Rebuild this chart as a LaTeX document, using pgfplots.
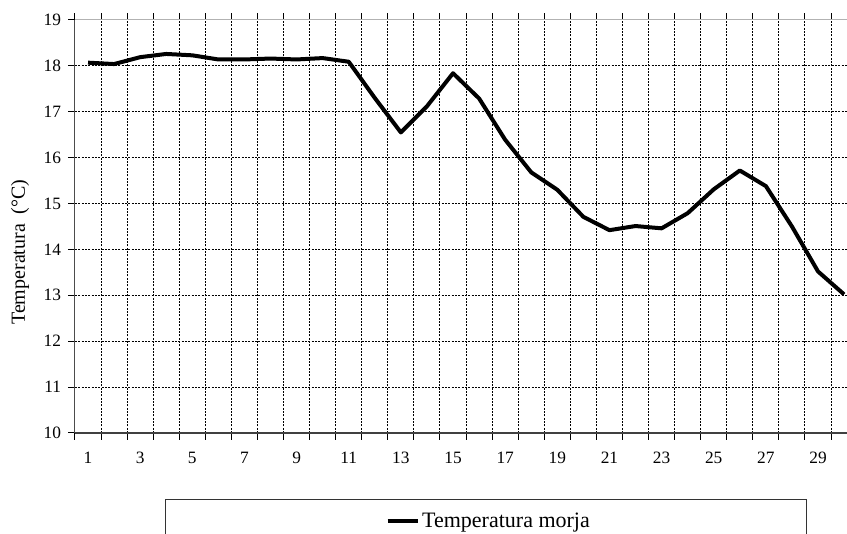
\documentclass[border=0pt]{standalone}
\usepackage{pgfplots}
\pgfplotsset{compat=1.18}
\usepackage{fontspec}
\setmainfont{Liberation Serif}

\begin{document}
\begin{tikzpicture}
% page = reference frame (847x534 px at 0.75pt/px), plot area origin at px (75,433)
\path[use as bounding box] (-56.25pt,-75.75pt) rectangle (579pt,324.75pt);
\begin{axis}[
	at={(0pt,0pt)}, anchor=origin,
	scale only axis,
	width=586.6pt, height=309.75pt,
	xmin=0.5, xmax=30.5,
	ymin=10, ymax=19,
	xtick={1,3,...,29},
	minor xtick={0.5,1.5,...,30.5},
	ytick={10,11,...,19},
	/pgf/number format/assume math mode=true,
	tick label style={font=\fontsize{13}{15}\selectfont},
	major x tick style={draw=none},
	minor x tick style={black, line width=0.75pt},
	y tick style={black, line width=0.75pt},
	tick align=outside,
	major tick length=5pt,
	minor tick length=5pt,
	xminorgrids=true,
	ymajorgrids=true,
	grid style={black, line width=0.75pt, dash pattern=on 1.6pt off 0.9pt},
	axis line style={draw=none},
	xticklabel style={yshift=-6pt},
	yticklabel style={xshift=-2pt},
	ylabel={Temperatura\ \ (°C)},
	ylabel style={at={(axis description cs:-0.0703,0.438)}, anchor=center,
		font=\fontsize{15}{17}\selectfont},
	clip=false,
	legend style={draw=none, fill=none, at={(310.5pt,-66pt)}, anchor=center,
		font=\fontsize{16.5}{18}\selectfont, inner sep=0pt},
	legend image code/.code={\draw[#1] (0pt,0pt) -- (22.5pt,0pt);},
]
\addplot[black, line width=3pt, line join=round] coordinates {
	(1,18.07)(2,18.04)(3,18.19)(4,18.26)(5,18.23)(6,18.14)(7,18.14)(8,18.16)
	(9,18.14)(10,18.17)(11,18.09)(12,17.30)(13,16.55)(14,17.12)(15,17.84)
	(16,17.29)(17,16.39)(18,15.68)(19,15.30)(20,14.71)(21,14.42)(22,14.51)
	(23,14.46)(24,14.79)(25,15.31)(26,15.72)(27,15.38)(28,14.50)(29,13.52)(30,13.02)
};
\addlegendentry{Temperatura morja}
\draw[black!70, line width=0.75pt] (rel axis cs:0,0) -- (rel axis cs:0,1);
\draw[black!30, line width=0.75pt] (rel axis cs:0,1) -- (rel axis cs:1,1);
\draw[black!75, line width=0.9pt] (rel axis cs:0,0) -- (rel axis cs:1,0);
\end{axis}
\draw[black!80, line width=0.75pt] (67.5pt,-90pt) -- (67.5pt,-50.25pt) -- (548.25pt,-50.25pt) -- (548.25pt,-90pt);
\end{tikzpicture}
\end{document}
